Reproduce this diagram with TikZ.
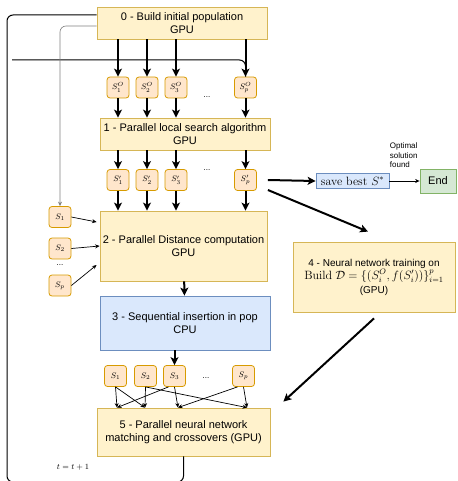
\documentclass[tikz,border=0pt]{standalone}
\usepackage{amsmath}
\usepackage{amssymb}
\usepackage[no-math]{fontspec}
\setsansfont{Liberation Sans}
\usepackage{tikz}
\usetikzlibrary{arrows.meta}

\definecolor{boxfill}{HTML}{FFF2CC}
\definecolor{boxline}{HTML}{D6B656}
\definecolor{solfill}{HTML}{FFE6CC}
\definecolor{solline}{HTML}{D79B00}
\definecolor{bluefill}{HTML}{DAE8FC}
\definecolor{blueline}{HTML}{6C8EBF}
\definecolor{greenfill}{HTML}{D5E8D4}
\definecolor{greenline}{HTML}{82B366}

\begin{document}
\begin{tikzpicture}[x=1pt,y=-1pt,line width=1pt,
  box/.style={draw=boxline,fill=boxfill,line width=0.8pt,align=center,inner sep=0pt,
    font=\sffamily\fontsize{11}{13}\selectfont},
  sol/.style={draw=solline,fill=solfill,line width=0.8pt,rounded corners=3pt,
    minimum width=22pt,minimum height=21pt,inner sep=0pt,font=\fontsize{8}{9}\selectfont},
  flow/.style={line width=2pt,-{Stealth[length=8pt,width=8pt,inset=2pt]}},
  link/.style={line width=0.7pt,-{Stealth[length=4.5pt,width=4pt]}},
  dots/.style={font=\sffamily\fontsize{8}{9}\selectfont}]
\useasboundingbox (0,0) rectangle (457,481);

% main stages
\node[box,minimum width=170pt,minimum height=32pt] (init) at (182,23) {0 - Build initial population\\GPU};
\node[box,minimum width=170pt,minimum height=32pt] (search) at (185,134) {1 - Parallel local search algorithm\\GPU};
\node[box,minimum width=167pt,minimum height=70pt] (dist) at (183.5,246) {2 - Parallel Distance computation\\GPU};
\node[box,draw=blueline,fill=bluefill,minimum width=170pt,minimum height=54pt] (insert) at (185,323) {3 - Sequential insertion in pop\\CPU};
\node[box,minimum width=162pt,minimum height=70pt,font=\sffamily\fontsize{10}{12}\selectfont] (train) at (374,277)
  {4 - Neural network training on\\[1pt]{\fontsize{12}{14}\selectfont$\mathrm{Build}\ \mathcal{D}=\{(S_i^O,f(S_i'))\}_{i=1}^p$}\\[2pt](GPU)};
\node[box,minimum width=173pt,minimum height=48pt] (cross) at (183.5,432) {5 - Parallel neural network\\matching and crossovers (GPU)};

\node[draw=blueline,fill=bluefill,line width=0.8pt,minimum width=73pt,minimum height=15pt,inner sep=0pt,
  font=\fontsize{12}{14}\selectfont] (best) at (352.5,181) {save best $S^*$};
\node[box,draw=greenline,fill=greenfill,minimum width=36pt,minimum height=24pt] (end) at (438,181) {End};
\node[anchor=south west,align=left,inner sep=0pt,font=\sffamily\fontsize{8}{9.5}\selectfont] (found)
  at ([yshift=5pt]best.north east) {Optimal\\solution\\found};

% initial solutions
\node[sol] (so1) at (118,87.5) {$S_1^O$};
\node[sol] (so2) at (147,87.5) {$S_2^O$};
\node[sol] (so3) at (176,87.5) {$S_3^O$};
\node[sol] (sop) at (245.5,87.5) {$S_p^O$};
\node[dots] (dotso) at (207,97) {...};

% improved solutions
\node[sol] (sn1) at (118,180) {$S_1'$};
\node[sol] (sn2) at (147,180) {$S_2'$};
\node[sol] (sn3) at (176,180) {$S_3'$};
\node[sol] (snp) at (245.5,180) {$S_p'$};
\node[dots] (dotsn) at (207,170) {...};

% population
\node[sol] (sd1) at (60,217) {$S_1$};
\node[sol] (sd2) at (60,248.5) {$S_2$};
\node[sol] (sdp) at (60,285.5) {$S_p$};
\node[dots] (dotsd) at (60,265) {...};

% selected parents
\node[sol] (sc1) at (115.5,376) {$S_1$};
\node[sol] (sc2) at (145.5,376) {$S_2$};
\node[sol] (sc3) at (174.5,376) {$S_3$};
\node[sol] (scp) at (243.5,376) {$S_p$};
\node[dots] (dotsc) at (206,378) {...};

\node[font=\fontsize{8}{9}\selectfont] (incr) at (73,467) {$t=t+1$};

\draw[flow] (init.south -| so1) -- (so1);
\draw[flow] (init.south -| so2) -- (so2);
\draw[flow] (init.south -| so3) -- (so3);
\draw[flow] (init.south -| sop) -- (sop);

\draw[flow] (so1) -- (search.north -| so1);
\draw[flow] (so2) -- (search.north -| so2);
\draw[flow] (so3) -- (search.north -| so3);
\draw[flow] (sop) -- (search.north -| sop);

\draw[flow] (search.south -| sn1) -- (sn1);
\draw[flow] (search.south -| sn2) -- (sn2);
\draw[flow] (search.south -| sn3) -- (sn3);
\draw[flow] (search.south -| snp) -- (snp);

\draw[flow] (sn1) -- (dist.north -| sn1);
\draw[flow] (sn2) -- (dist.north -| sn2);
\draw[flow] (sn3) -- (dist.north -| sn3);
\draw[flow] (snp) -- (dist.north -| snp);

\draw[link] (sd1.east) -- ([xshift=-3pt,yshift=24pt]dist.west);
\draw[link] (sd2.east) -- (dist.west);
\draw[link] (sdp.east) -- ([xshift=-3pt,yshift=-19pt]dist.west);

\draw[flow] (dist) -- (insert);
\draw[flow] (insert.south -| sc3) -- (sc3);

\coordinate (m1) at ([xshift=-66.5pt]cross.north);
\coordinate (m2) at ([xshift=-38.5pt]cross.north);
\coordinate (m3) at ([xshift=-5.5pt]cross.north);
\coordinate (m4) at ([xshift=63.5pt]cross.north);
\draw[link] (sc1.south) -- (m1);
\draw[link] (sc1.south) -- (m2);
\draw[link] (sc2.south) -- (m2);
\draw[link] (sc2.south) -- (m4);
\draw[link] ([xshift=-6pt]sc3.south) -- (m1);
\draw[link] (sc3.south) -- (m3);
\draw[link] ([xshift=-6pt]scp.south) -- (m3);
\draw[link] (scp.south) -- (m4);

\draw[flow] ([xshift=11pt]snp.east) -- (best.west);
\draw[link] (best) -- (end);
\draw[flow] ([xshift=11pt,yshift=-10pt]snp.east) -- ([xshift=-6pt,yshift=10pt]train.north);
\draw[flow] ([yshift=-6pt]train.south) -- ([xshift=13pt,yshift=6pt]cross.north east);

% loop back
\draw[rounded corners=6pt] (cross.south) |- (7,482) |- ([yshift=8pt]init.west);
\coordinate (feed) at (12,60);
\draw[rounded corners=6pt] (feed) -| (sop.north);
\draw[gray,line width=0.6pt,rounded corners=6pt,-{Stealth[length=4.5pt,width=4pt]}] ([yshift=-3pt]init.west) -| (sd1.north);

\end{tikzpicture}
\end{document}
